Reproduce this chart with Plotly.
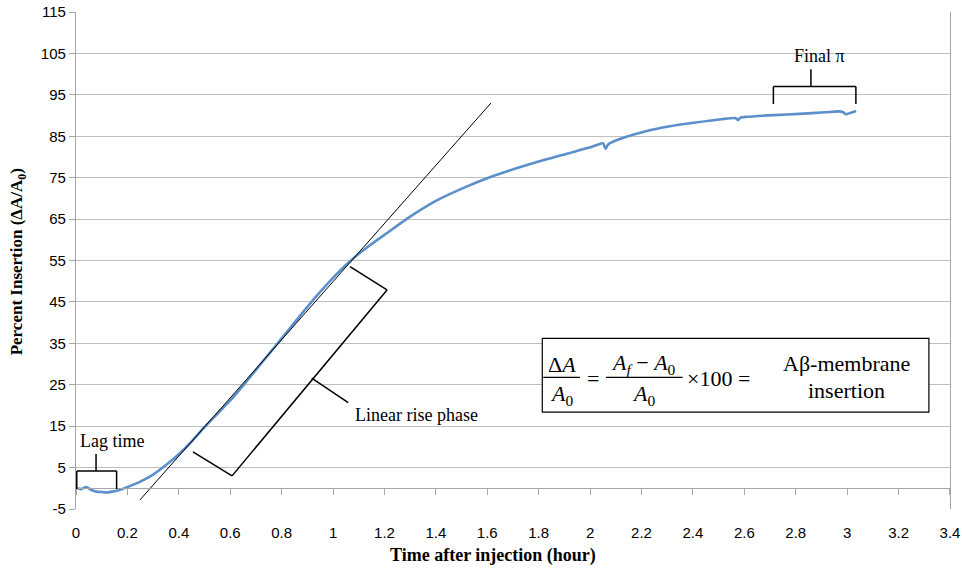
import plotly.graph_objects as go

# ---- data ----
time_h = [0.00, 0.02, 0.04, 0.06, 0.08, 0.10, 0.12, 0.14, 0.16, 0.18, 0.20, 0.25, 0.30, 0.35,
          0.40, 0.45, 0.50, 0.55, 0.60, 0.65, 0.70, 0.75, 0.80, 0.85, 0.90, 0.95, 1.00, 1.05,
          1.10, 1.15, 1.20, 1.30, 1.40, 1.51, 1.61, 1.71, 1.81, 1.91, 2.01, 2.05, 2.06, 2.07,
          2.11, 2.21, 2.31, 2.41, 2.51, 2.565, 2.575, 2.585, 2.61, 2.715, 2.815, 2.915, 2.965,
          2.985, 2.995, 3.015, 3.035]
insertion = [0.0, -0.2, 0.3, -0.4, -0.8, -0.9, -1.0, -0.8, -0.6, -0.2, 0.3, 1.6, 3.3, 5.6,
             8.2, 11.3, 14.8, 18.0, 21.2, 24.8, 28.6, 32.4, 36.2, 40.0, 43.8, 47.4, 50.8, 53.9,
             56.6, 59.0, 61.2, 65.6, 69.4, 72.6, 75.1, 77.2, 79.1, 80.8, 82.5, 83.3, 82.0, 83.0,
             84.2, 86.1, 87.4, 88.3, 89.1, 89.4, 88.9, 89.5, 89.7, 90.1, 90.4, 90.8, 91.0, 90.8,
             90.3, 90.7, 91.1]

tangent_x = [0.249, 1.614]
tangent_y = [-2.8, 93.0]

x_ticks = [round(0.2 * i, 1) for i in range(18)]
y_ticks = list(range(-5, 116, 10))

SERIF = "Liberation Serif, Times New Roman, serif"
SANS = "Liberation Sans Narrow, Arial Narrow, Liberation Sans, sans-serif"
GRID = "#BFBFBF"
AXIS = "#A6A6A6"

fig = go.Figure()
fig.add_trace(go.Scatter(x=time_h, y=insertion, mode="lines",
                         line=dict(color="#5B8FCC", width=2.6, shape="spline", smoothing=0.6),
                         showlegend=False, hoverinfo="skip"))
fig.add_trace(go.Scatter(x=tangent_x, y=tangent_y, mode="lines", xaxis="x2",
                         line=dict(color="black", width=1), showlegend=False,
                         hoverinfo="skip"))

line = dict(color="black", width=1.5)
shapes = []
def poly(pts, ln=line):
    for (x0, y0), (x1, y1) in zip(pts[:-1], pts[1:]):
        shapes.append(dict(type="line", xref="x", yref="y", x0=x0, y0=y0, x1=x1, y1=y1,
                           line=ln, layer="above"))

# Lag time bracket
poly([(0.003, -0.2), (0.003, 4.2), (0.158, 4.2), (0.158, -0.2)])
poly([(0.078, 4.2), (0.078, 8.3)])
# Linear rise bracket
poly([(1.066, 53.5), (1.210, 47.9), (0.607, 3.0), (0.455, 8.8)])
poly([(0.917, 26.6), (1.059, 20.7)])
# Final pi bracket
poly([(2.713, 92.8), (2.713, 97.0), (3.034, 97.0), (3.034, 92.8)])
poly([(2.859, 97.0), (2.859, 101.2)])

# formula box
shapes.append(dict(type="rect", xref="x", yref="y", x0=1.814, x1=3.318, y0=18.4, y1=36.2,
                   line=dict(color="black", width=1.2), fillcolor="white", layer="above"))
poly([(1.818, 26.8), (1.961, 26.8)], dict(color="black", width=1.2))
poly([(2.062, 26.8), (2.360, 26.8)], dict(color="black", width=1.2))

ann = []
def txt(x, y, s, size=18, xanchor="center", ref="data", **kw):
    d = dict(x=x, y=y, text=s, showarrow=False, xanchor=xanchor, yanchor="middle",
             font=dict(family=SERIF, size=size, color="black"))
    if ref == "paper":
        d.update(xref="paper", yref="paper")
    else:
        d.update(xref="x", yref="y")
    d.update(kw)
    ann.append(d)

txt(0.139, 11.5, "Lag time")
txt(1.078, 17.7, "Linear rise phase", xanchor="left")
txt(2.892, 104.3, "Final π")

FS = 22
txt(1.889, 30.0, "Δ<i>A</i>", FS)
txt(1.889, 22.6, "<i>A</i><sub>0</sub>", FS)
txt(2.013, 26.6, "=", FS)
txt(2.209, 30.0, "<i>A<sub>f</sub></i> − <i>A</i><sub>0</sub>", FS)
txt(2.209, 22.6, "<i>A</i><sub>0</sub>", FS)
txt(2.369, 26.4, "×100 =", FS, xanchor="left")
txt(2.998, 30.2, "Aβ-membrane", FS)
txt(2.998, 23.7, "insertion", FS)

txt(-0.066, 0.497, "<b>Percent Insertion (ΔA/A<sub>0</sub>)</b>", 17, ref="paper", textangle=-90)
txt(0.477, -0.0926, "<b>Time after injection (hour)</b>", 18, ref="paper")

fig.update_layout(
    width=962, height=571,
    margin=dict(l=76, r=12, t=12, b=62, autoexpand=False),
    plot_bgcolor="white", paper_bgcolor="white",
    shapes=shapes, annotations=ann,
    xaxis=dict(range=[0, 3.4001], tickvals=x_ticks, ticktext=[f"{v:g}" for v in x_ticks],
               showgrid=False, zeroline=False, showline=False, ticklabeloverflow="allow",
               automargin=False,
               ticks="outside", ticklen=10, tickcolor="rgba(0,0,0,0)",
               tickfont=dict(family=SANS, size=15, color="black")),
    xaxis2=dict(range=[0, 3.4001], overlaying="x", anchor="free", position=5 / 120,
                tickvals=x_ticks, showticklabels=False, showgrid=False, zeroline=False,
                automargin=False,
                showline=True, linecolor=AXIS, linewidth=1.3,
                ticks="outside", ticklen=6, tickcolor=AXIS, tickwidth=1.3),
    yaxis=dict(range=[-5, 115], tickvals=y_ticks, ticktext=[str(v) for v in y_ticks],
               showgrid=True, gridcolor=GRID, automargin=False, mirror=True,
               gridwidth=1.4, zeroline=False, showline=True, linecolor=AXIS, linewidth=1.3,
               ticks="outside", ticklen=6, tickcolor=AXIS, tickwidth=1.3,
               tickfont=dict(family=SANS, size=15, color="black")),
)

fig.write_html("out.html")
